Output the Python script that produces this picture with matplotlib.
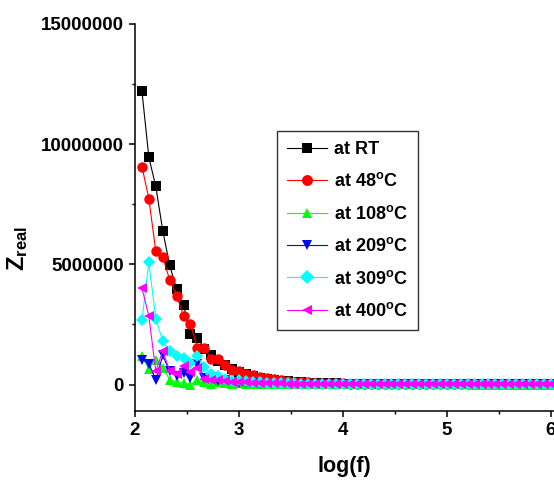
import matplotlib
matplotlib.use("Agg")
from matplotlib import pyplot as plt
import numpy as np

plt.rcParams["font.family"] = ["Liberation Sans", "DejaVu Sans"]
plt.rcParams["font.weight"] = "bold"
plt.rcParams["mathtext.fontset"] = "custom"
plt.rcParams["mathtext.rm"] = "Liberation Sans:bold"
plt.rcParams["mathtext.bf"] = "Liberation Sans:bold"
plt.rcParams["mathtext.default"] = "bf"

# log(f) values
logf = [2.067, 2.133, 2.2, 2.267, 2.333, 2.4, 2.467, 2.533, 2.6, 2.667,
        2.733, 2.8, 2.867, 2.933, 3.0, 3.067, 3.133, 3.2, 3.267, 3.333,
        3.4, 3.467, 3.533, 3.6, 3.667, 3.733, 3.8, 3.867, 3.933, 4.0,
        4.067, 4.133, 4.2, 4.267, 4.333, 4.4, 4.467, 4.533, 4.6, 4.667,
        4.733, 4.8, 4.867, 4.933, 5.0, 5.067, 5.133, 5.2, 5.267, 5.333,
        5.4, 5.467, 5.533, 5.6, 5.667, 5.733, 5.8, 5.867, 5.933, 6.0]

# Z_real in units of 1e6 ohm
z_rt = [12.2, 9.46, 8.24, 6.40, 4.97, 3.97, 3.30, 2.11, 1.94, 1.50,
        1.21, 1.00, 0.83, 0.65, 0.52, 0.42, 0.34, 0.28, 0.23, 0.19,
        0.16, 0.13, 0.11, 0.09, 0.08, 0.07, 0.06, 0.05, 0.045, 0.04,
        0.035, 0.031, 0.028, 0.025, 0.022, 0.02, 0.018, 0.017, 0.016, 0.015,
        0.014, 0.013, 0.012, 0.012, 0.011, 0.011, 0.010, 0.010, 0.009, 0.009,
        0.008, 0.008, 0.008, 0.007, 0.007, 0.007, 0.006, 0.006, 0.006, 0.005]
z_48 = [9.07, 7.74, 5.54, 5.30, 4.36, 3.70, 2.86, 2.54, 1.51, 1.54,
        1.07, 1.07, 0.80, 0.60, 0.55, 0.45, 0.39, 0.32, 0.27, 0.22,
        0.18, 0.15, 0.12, 0.10, 0.09, 0.08, 0.07, 0.06, 0.05, 0.045,
        0.04, 0.035, 0.03, 0.027, 0.024, 0.021, 0.019, 0.017, 0.016, 0.015,
        0.014, 0.013, 0.012, 0.011, 0.011, 0.010, 0.010, 0.009, 0.009, 0.008,
        0.008, 0.008, 0.007, 0.007, 0.007, 0.006, 0.006, 0.006, 0.005, 0.005]
z_108 = [1.18, 0.65, 1.04, 0.70, 0.21, 0.10, 0.05, 0.00, 0.20, 0.10,
         0.02, 0.10, 0.06, 0.04, 0.05, 0.03, 0.03, 0.02, 0.02, 0.015,
         0.015, 0.012, 0.010, 0.010, 0.009, 0.008, 0.008, 0.007, 0.007, 0.006,
         0.006, 0.006, 0.005, 0.005, 0.005, 0.005, 0.004, 0.004, 0.004, 0.004,
         0.004, 0.003, 0.003, 0.003, 0.003, 0.003, 0.003, 0.003, 0.002, 0.002,
         0.002, 0.002, 0.002, 0.002, 0.002, 0.002, 0.002, 0.002, 0.002, 0.002]
z_209 = [1.04, 0.875, 0.20, 1.21, 0.55, 0.35, 0.49, 0.28, 0.875, 0.28,
         0.30, 0.14, 0.20, 0.10, 0.08, 0.06, 0.05, 0.04, 0.035, 0.03,
         0.025, 0.02, 0.018, 0.016, 0.014, 0.012, 0.011, 0.010, 0.009, 0.008,
         0.008, 0.007, 0.007, 0.006, 0.006, 0.005, 0.005, 0.005, 0.004, 0.004,
         0.004, 0.004, 0.003, 0.003, 0.003, 0.003, 0.003, 0.003, 0.002, 0.002,
         0.002, 0.002, 0.002, 0.002, 0.002, 0.002, 0.002, 0.002, 0.002, 0.002]
z_309 = [2.68, 5.08, 2.74, 1.80, 1.39, 1.20, 1.11, 0.90, 1.18, 0.72,
         0.42, 0.35, 0.25, 0.15, 0.20, 0.15, 0.12, 0.10, 0.08, 0.07,
         0.06, 0.05, 0.045, 0.04, 0.035, 0.03, 0.027, 0.024, 0.021, 0.019,
         0.017, 0.015, 0.014, 0.013, 0.012, 0.011, 0.010, 0.010, 0.009, 0.009,
         0.008, 0.008, 0.007, 0.007, 0.007, 0.006, 0.006, 0.006, 0.005, 0.005,
         0.005, 0.005, 0.004, 0.004, 0.004, 0.004, 0.004, 0.004, 0.003, 0.003]
z_400 = [4.01, 2.85, 0.55, 1.39, 0.58, 0.45, 0.79, 0.53, 0.69, 0.24,
         0.19, 0.19, 0.15, 0.12, 0.10, 0.09, 0.08, 0.07, 0.06, 0.05,
         0.045, 0.04, 0.035, 0.03, 0.027, 0.024, 0.021, 0.019, 0.017, 0.015,
         0.014, 0.013, 0.012, 0.011, 0.010, 0.010, 0.009, 0.009, 0.008, 0.008,
         0.007, 0.007, 0.007, 0.006, 0.006, 0.006, 0.005, 0.005, 0.005, 0.005,
         0.004, 0.004, 0.004, 0.004, 0.004, 0.004, 0.003, 0.003, 0.003, 0.003]

labels = ["at RT", "at 48$^{o}$C", "at 108$^{o}$C", "at 209$^{o}$C",
          "at 309$^{o}$C", "at 400$^{o}$C"]
series = [z_rt, z_48, z_108, z_209, z_309, z_400]
colors = ["black", "#ff0000", "#00ff00", "#0000ff", "#00ffff", "#ff00ff"]
markers = ["s", "o", "^", "v", "D", "<"]
sizes = [6.5, 7.5, 7.5, 7.5, 6.5, 7.5]

fig = plt.figure(figsize=(5.54, 4.84), dpi=100)
ax = fig.add_axes([135 / 554, 1 - 411 / 484, 1 - 135 / 554, 387 / 484])

x = np.array(logf)
for z, c, m, s, lab in zip(series, colors, markers, sizes, labels):
    ax.plot(x, np.array(z) * 1e6, color=c, marker=m, markersize=s,
            linewidth=0.8, markeredgewidth=0, label=lab)

ax.set_xlim(2, 6.03)
ax.set_ylim(-1.1e6, 15e6)
ax.set_xticks([2, 3, 4, 5, 6])
ax.set_xticks([2.5, 3.5, 4.5, 5.5], minor=True)
ax.set_yticks([0, 5000000, 10000000, 15000000])
ax.set_yticks([2500000, 7500000, 12500000], minor=True)
ax.yaxis.set_major_formatter(matplotlib.ticker.FuncFormatter(lambda v, p: f"{int(v)}"))

for side in ["top", "right"]:
    ax.spines[side].set_visible(False)
for side in ["left", "bottom"]:
    ax.spines[side].set_linewidth(1.1)
ax.tick_params(which="major", direction="out", length=4, width=1.1,
               labelsize=13.5, pad=4)
ax.tick_params(which="minor", direction="out", length=2.5, width=1)

ax.set_xlabel("log(f)", fontsize=15.5, fontweight="bold", labelpad=12)
ax.set_ylabel(r"$\mathbf{Z}_{\mathbf{real}}$", fontsize=17, labelpad=10)
ax.yaxis.set_label_coords(-0.25, 0.42)

leg = ax.legend(loc="upper left", bbox_to_anchor=(277 / 554, 1 - 131 / 484),
                bbox_transform=fig.transFigure, borderaxespad=0,
                fancybox=False, edgecolor="#333333", framealpha=1,
                fontsize=13, handlelength=2.2, labelspacing=0.8,
                handletextpad=0.4, borderpad=0.55, markerscale=1.05)
leg.get_frame().set_linewidth(1)

fig.savefig("out.png", dpi=100)
